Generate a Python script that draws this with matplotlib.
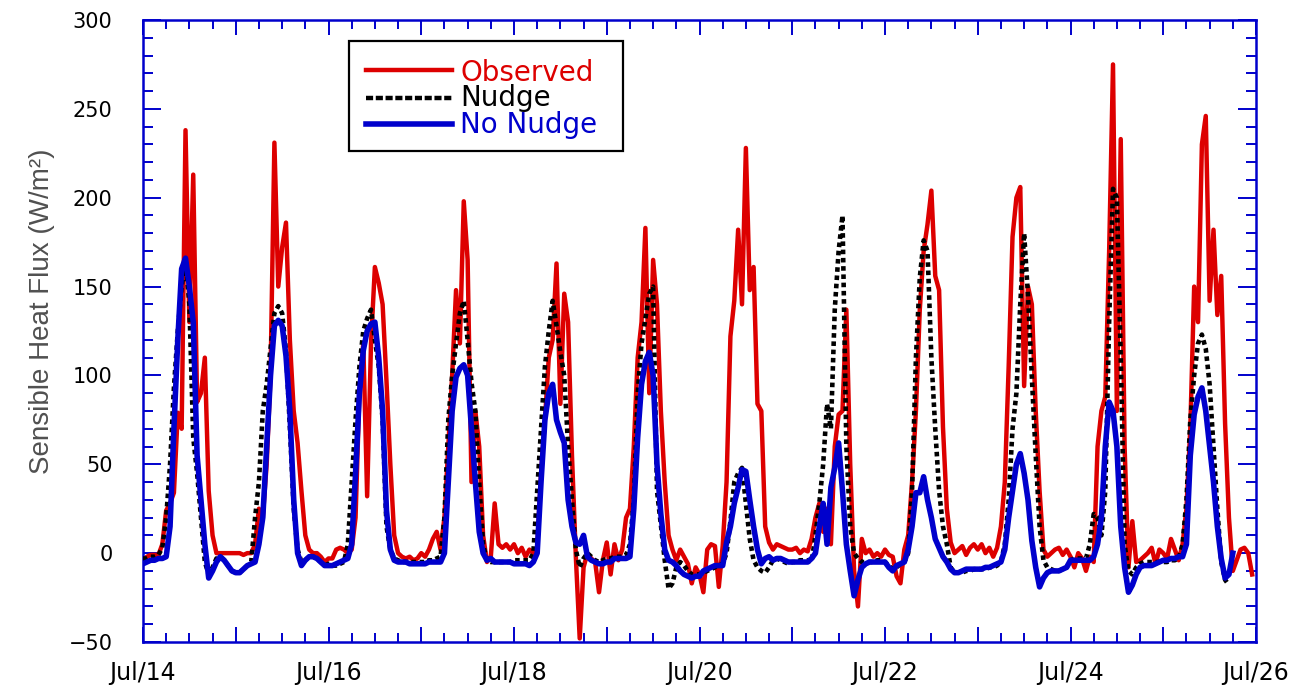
import numpy as np
import matplotlib
matplotlib.use("Agg")
import matplotlib.pyplot as plt
from matplotlib.patches import Rectangle
from matplotlib.ticker import MultipleLocator, FuncFormatter

# Hourly sensible heat flux (W/m^2), starting Jul 14 00:00, one row per day
observed = [
    -5, -2, -1, -1, -1, 5, 24, 28, 34, 79, 70, 238, 130, 213, 85, 90, 110, 35, 10, 0, 0, 0, 0, 0,          # Jul 14
    0, 0, -1, 0, 0, 5, 25, 20, 50, 100, 231, 150, 172, 186, 120, 80, 62, 35, 10, 2, 0, 0, -2, -5,         # Jul 15
    -3, -3, 2, 3, 2, 0, 2, 20, 90, 118, 32, 118, 161, 152, 140, 97, 50, 10, 0, -2, -3, -2, -4, -3,        # Jul 16
    0, -2, 2, 8, 12, 2, 20, 60, 100, 148, 118, 198, 165, 40, 80, 60, 10, -5, -2, 28, 5, 3, 5, 2,         # Jul 17
    5, 0, 3, -2, 2, 0, 3, 45, 75, 110, 120, 163, 84, 146, 130, 55, -2, -48, -8, 0, -3, -5, -22, -4,      # Jul 18
    6, -12, 5, -4, 2, 20, 25, 60, 110, 130, 183, 90, 165, 140, 80, 40, 10, 2, -4, 2, -2, -6, -17, -8,    # Jul 19
    -12, -22, 2, 5, 4, -19, 4, 40, 122, 142, 182, 140, 228, 148, 161, 84, 80, 15, 6, 2, 5, 4, 3, 2,      # Jul 20
    2, 3, 0, 2, 1, 8, 20, 28, 12, 25, 5, 60, 78, 80, 137, 50, -10, -30, 8, 0, 2, -2, 0, -2,              # Jul 21
    2, -1, -2, -13, -17, 2, 10, 40, 80, 137, 170, 185, 204, 156, 148, 71, 25, 6, 0, 2, 4, -1, 3, 5,      # Jul 22
    2, 5, 0, 3, -2, 3, 15, 40, 105, 178, 200, 206, 94, 150, 140, 80, 35, 2, -2, 0, 2, 3, -1, 2,          # Jul 23
    -2, -8, 0, -3, -10, -2, -5, 60, 80, 88, 170, 275, 80, 233, 60, -8, 18, -5, -4, -2, 0, 3, -6, 2,      # Jul 24
    0, -3, 8, 2, -4, 5, 25, 70, 150, 130, 230, 246, 142, 182, 134, 156, 73, 20, -10, -4, 2, 3, 0, -12,   # Jul 25
]

nudge = [
    -3, -3, -2, -2, -1, 3, 20, 50, 93, 125, 150, 165, 140, 65, 45, 20, -5, -12, -8, -3, -2, -4, -7, -10,
    -11, -11, -9, -7, -5, 20, 40, 80, 95, 115, 135, 139, 135, 114, 71, 25, 2, -5, -4, -2, -2, -3, -5, -7,
    -6, -7, -7, -6, -5, 5, 40, 75, 105, 125, 132, 137, 120, 105, 75, 15, 2, -3, -4, -5, -5, -5, -5, -5,
    -5, -5, -4, -4, -3, -2, 20, 75, 100, 118, 135, 142, 120, 96, 80, 40, 5, -4, -5, -5, -5, -5, -5, -5,
    -4, -4, -4, -4, -4, 0, 35, 70, 105, 125, 142, 128, 113, 100, 60, 30, 2, -8, -3, 0, -2, -4, -5, -4,
    -3, -3, -2, -2, -2, -1, 5, 30, 90, 118, 132, 146, 150, 35, 16, -4, -20, -17, -8, -5, -7, -10, -12, -12,
    -12, -11, -10, -9, -8, -7, -6, 0, 18, 40, 45, 48, 28, 8, -4, -8, -10, -11, -8, -4, -3, -4, -5, -6,
    -5, -5, -4, -4, -4, -5, 10, 28, 50, 84, 70, 137, 170, 190, 60, 15, 0, -3, -5, -5, -5, -5, -4, -4,
    -5, -7, -9, -8, -6, -5, 0, 35, 110, 155, 176, 170, 110, 70, 35, 15, 5, -8, -11, -11, -11, -10, -10, -9,
    -9, -9, -9, -8, -8, -7, -5, 5, 30, 70, 90, 140, 180, 145, 99, 55, 15, -4, -8, -9, -10, -10, -9, -8,
    -4, -3, -3, -3, -3, 5, 22, 20, 10, 35, 130, 205, 200, 110, 5, -10, -12, -8, -6, -5, -5, -5, -5, -5,
    -5, -5, -4, -4, -3, 5, 30, 75, 100, 118, 123, 115, 95, 60, 25, -5, -15, -18,
]

no_nudge = [
    -6, -5, -4, -4, -3, -3, -2, 15, 70, 120, 160, 166, 150, 130, 55, 30, 5, -14, -10, -5, -2, -4, -7, -10,
    -11, -11, -9, -7, -6, -5, 5, 20, 60, 100, 128, 131, 128, 111, 80, 30, 0, -7, -4, -2, -2, -3, -5, -7,
    -7, -7, -6, -5, -4, -3, 5, 45, 90, 114, 125, 129, 130, 110, 80, 24, 2, -4, -5, -5, -5, -6, -6, -6,
    -6, -6, -5, -5, -5, -5, 0, 40, 80, 99, 104, 106, 100, 70, 40, 12, 0, -4, -3, -5, -5, -5, -5, -5,
    -6, -6, -6, -6, -7, -5, 0, 40, 75, 90, 95, 75, 68, 62, 30, 15, 6, 5, 10, -2, -4, -5, -6, -6,
    -5, -5, -3, -3, -3, -3, -2, 25, 65, 95, 108, 113, 100, 50, 22, 2, -4, -5, -7, -10, -12, -13, -14, -13,
    -13, -10, -9, -8, -7, -7, -7, 6, 15, 28, 37, 47, 46, 30, 15, 2, -6, -3, -2, -4, -3, -3, -4, -5,
    -5, -5, -5, -5, -5, -3, 0, 15, 28, 5, 37, 48, 62, 35, 5, -10, -24, -15, -8, -6, -5, -5, -5, -5,
    -5, -8, -10, -7, -6, -5, 2, 15, 34, 34, 43, 30, 20, 8, 3, -2, -5, -9, -11, -11, -10, -9, -9, -9,
    -9, -9, -8, -8, -7, -6, -5, 2, 20, 35, 50, 56, 45, 30, 7, -8, -19, -14, -11, -10, -10, -10, -9, -8,
    -4, -4, -4, -4, -4, -4, -2, 5, 20, 60, 85, 80, 60, 15, -8, -22, -18, -12, -8, -7, -7, -7, -6, -5,
    -4, -4, -3, -3, -2, -2, 5, 55, 78, 88, 93, 80, 60, 40, 15, -3, -14, -12, 0,
]

series_names = ["Observed", "Nudge", "No Nudge"]
date_labels = ["Jul/14", "Jul/16", "Jul/18", "Jul/20", "Jul/22", "Jul/24", "Jul/26"]

RED = "#dd0000"
BLUE = "#0000cc"
BLACK = "#000000"

W, H = 1306, 694
fig = plt.figure(figsize=(W / 100, H / 100), dpi=100)
fig.patch.set_facecolor("white")
ax = fig.add_axes([143 / W, 1 - 642 / H, (1256 - 143) / W, (642 - 20) / H])


def days(values):
    return np.arange(len(values)) / 24.0


dotted = (0, (1.0, 0.8))
ax.plot(days(observed), observed, color=RED, lw=3.2, zorder=2)
ax.plot(days(nudge), nudge, color=BLACK, lw=3.3, linestyle=dotted,
        dash_capstyle="butt", zorder=3)
ax.plot(days(no_nudge), no_nudge, color=BLUE, lw=4.0, zorder=4)

ax.set_xlim(0, 12)
ax.set_ylim(-50, 300)

# Blue frame with inward ticks on every side
for side in ax.spines.values():
    side.set_color(BLUE)
    side.set_linewidth(1.8)

ax.xaxis.set_major_locator(MultipleLocator(1))
ax.xaxis.set_minor_locator(MultipleLocator(0.25))
ax.yaxis.set_major_locator(MultipleLocator(50))
ax.yaxis.set_minor_locator(MultipleLocator(10))


def date_fmt(v, pos):
    k = int(round(v))
    return date_labels[k // 2] if k % 2 == 0 and 0 <= k // 2 < len(date_labels) else ""


ax.xaxis.set_major_formatter(FuncFormatter(date_fmt))
ax.tick_params(which="both", direction="in", top=True, right=True,
               color=BLUE, width=1.4, labelcolor="black")
ax.tick_params(axis="x", which="major", length=11, labelsize=17, pad=14)
ax.tick_params(axis="x", which="minor", length=6.5)
ax.tick_params(axis="y", which="major", length=13, labelsize=15, pad=22)
ax.tick_params(axis="y", which="minor", length=7.5)

fig.text(42 / W, 1 - 311 / H, "Sensible Heat Flux (W/m²)", rotation=90,
         ha="center", va="center", fontsize=20, color="#505050",
         family=["Liberation Sans", "DejaVu Sans"])

# Legend box
def ax_x(px):
    return (px - 143) / (1256 - 143)


def ax_y(py):
    return (642 - py) / (642 - 20)


ax.add_patch(Rectangle((ax_x(349), ax_y(151)), ax_x(623) - ax_x(349),
                       ax_y(41) - ax_y(151), transform=ax.transAxes,
                       facecolor="white", edgecolor="black", lw=1.6, zorder=6))
styles = [dict(color=RED, lw=3.2),
          dict(color=BLACK, lw=3.2, linestyle=(0, (1.6, 0.6)), dash_capstyle="butt"),
          dict(color=BLUE, lw=4.0)]
text_colors = [RED, BLACK, BLUE]
line_rows = [70, 97.5, 123.5]
base_rows = [81, 106.5, 133]
for name, st, tc, ly, by in zip(series_names, styles, text_colors, line_rows, base_rows):
    ax.plot([ax_x(366), ax_x(452)], [ax_y(ly)] * 2, transform=ax.transAxes,
            zorder=7, clip_on=False, **st)
    ax.text(ax_x(460), ax_y(by), name, transform=ax.transAxes, color=tc,
            fontsize=20, va="baseline", ha="left", zorder=7)

fig.savefig("out.png", dpi=100)
